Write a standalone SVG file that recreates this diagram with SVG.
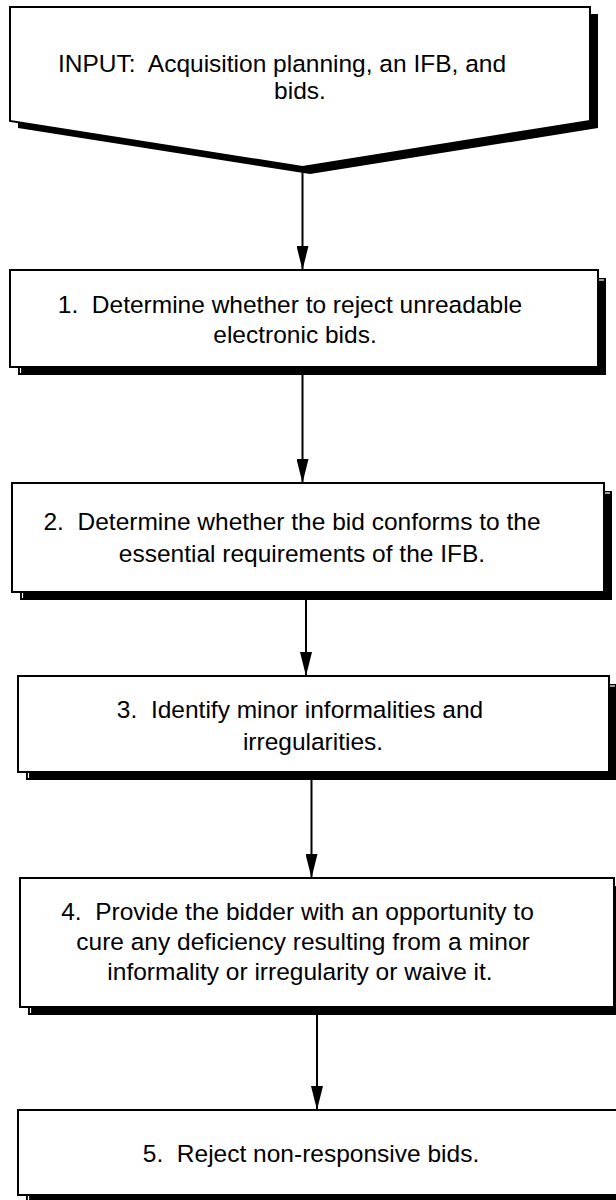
<svg xmlns="http://www.w3.org/2000/svg" width="616" height="1200" viewBox="0 0 616 1200">
<style>
  .box { fill: #ffffff; stroke: #000000; stroke-width: 2; }
  .shadow { fill: #000000; stroke: none; }
  .gap { stroke: #ffffff; stroke-width: 1.2; fill: none; }
  .label { font-family: "Liberation Sans", Arial, Helvetica, sans-serif; font-size: 24.5px; fill: #000000; text-anchor: middle; white-space: pre; }
  .conn { stroke: #000000; stroke-width: 2; fill: none; marker-end: url(#arrow); }
</style>
<defs>
  <marker id="arrow" markerUnits="userSpaceOnUse" viewBox="0 0 24 12" markerWidth="24" markerHeight="12" refX="24" refY="6" orient="auto">
    <path d="M0,0 L24,6 L0,12 Z" fill="#000000"/>
  </marker>
</defs>
<rect x="0" y="0" width="616" height="1200" fill="#ffffff"/>

<g id="input">
  <polygon class="shadow" points="18,14 598,14 598,128 310,174 18,128"/>
  <polygon class="box" points="10,7 590,7 590,121 302.5,167 10,121"/>
  <text class="label" xml:space="preserve" x="282" y="72">INPUT:  Acquisition planning, an IFB, and</text>
  <text class="label" x="300" y="99">bids.</text>
</g>

<g id="step1">
  <rect class="shadow" x="18" y="278" width="588" height="97"/>
  <line class="gap" x1="20.5" y1="367" x2="20.5" y2="373"/>
  <line class="gap" x1="598" y1="280" x2="604" y2="280"/>
  <rect class="box" x="10" y="270" width="588" height="97"/>
  <text class="label" xml:space="preserve" x="290" y="313">1.  Determine whether to reject unreadable</text>
  <text class="label" x="295" y="343">electronic bids.</text>
</g>

<g id="step2">
  <rect class="shadow" x="20" y="491" width="592" height="109"/>
  <line class="gap" x1="22.5" y1="592" x2="22.5" y2="598"/>
  <line class="gap" x1="604" y1="493" x2="610" y2="493"/>
  <rect class="box" x="12" y="483" width="592" height="109"/>
  <text class="label" xml:space="preserve" x="292" y="530">2.  Determine whether the bid conforms to the</text>
  <text class="label" x="302" y="562">essential requirements of the IFB.</text>
</g>

<g id="step3">
  <rect class="shadow" x="26" y="684" width="591" height="96"/>
  <line class="gap" x1="28.5" y1="772" x2="28.5" y2="778"/>
  <line class="gap" x1="609" y1="686" x2="615" y2="686"/>
  <rect class="box" x="18" y="676" width="591" height="96"/>
  <text class="label" xml:space="preserve" x="300" y="718">3.  Identify minor informalities and</text>
  <text class="label" x="313" y="750">irregularities.</text>
</g>

<g id="step4">
  <rect class="shadow" x="28" y="886" width="600" height="129"/>
  <line class="gap" x1="30.5" y1="1007" x2="30.5" y2="1013"/>
  <rect class="box" x="20" y="878" width="594" height="129"/>
  <text class="label" xml:space="preserve" x="297.5" y="920">4.  Provide the bidder with an opportunity to</text>
  <text class="label" x="303" y="950">cure any deficiency resulting from a minor</text>
  <text class="label" x="300" y="980">informality or irregularity or waive it.</text>
</g>

<g id="step5">
  <rect class="shadow" x="26" y="1118" width="600" height="90"/>
  <line class="gap" x1="28.5" y1="1195" x2="28.5" y2="1201"/>
  <rect class="box" x="18" y="1110" width="610" height="85"/>
  <text class="label" xml:space="preserve" x="311" y="1162">5.  Reject non-responsive bids.</text>
</g>

<g id="connectors">
  <line class="conn" x1="302.5" y1="167" x2="302.5" y2="270"/>
  <line class="conn" x1="302.5" y1="375" x2="302.5" y2="483"/>
  <line class="conn" x1="306" y1="600" x2="306" y2="676"/>
  <line class="conn" x1="311.5" y1="780" x2="311.5" y2="878"/>
  <line class="conn" x1="317" y1="1015" x2="317" y2="1110"/>
</g>
</svg>
